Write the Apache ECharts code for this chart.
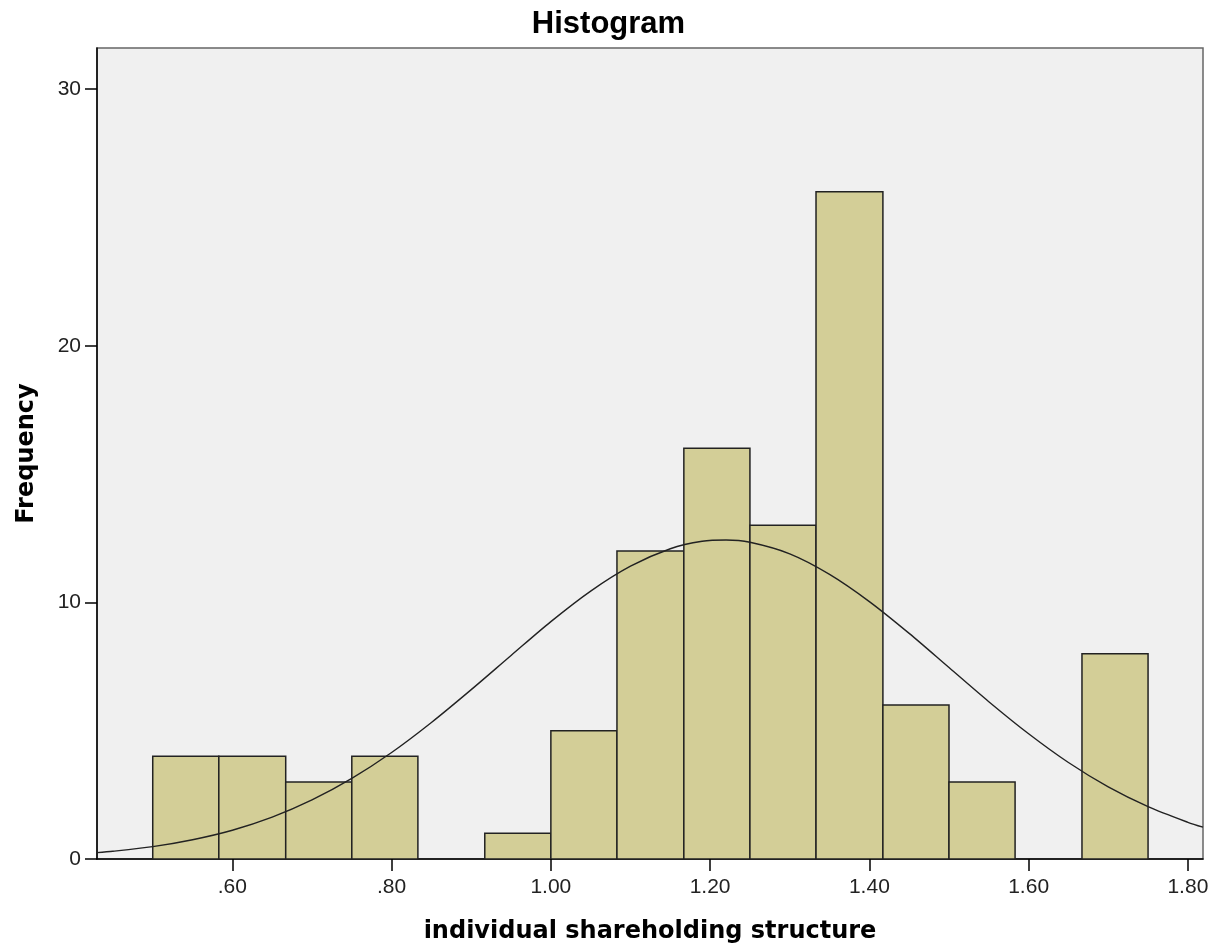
<!DOCTYPE html>
<html>
<head>
<meta charset="utf-8">
<script src="https://cdn.jsdelivr.net/npm/echarts@6/dist/echarts.min.js"></script>
<style>
  html, body { margin: 0; padding: 0; background: #fff; }
  #chart { width: 1217px; height: 950px; }
</style>
</head>
<body>
<div id="chart"></div>
<script>
// bin edges of the histogram (16 edges -> 15 bins)
const binEdges = [0.500, 0.583, 0.667, 0.750, 0.833, 0.917, 1.000, 1.083,
                  1.167, 1.250, 1.333, 1.417, 1.500, 1.583, 1.667, 1.750];
const counts = [4, 4, 3, 4, 0, 1, 5, 12, 16, 13, 26, 6, 3, 0, 8];

// normal curve
const curveX = [0.43, 0.45, 0.50, 0.55, 0.60, 0.65, 0.70, 0.75, 0.80, 0.85, 0.90, 0.95,
                1.00, 1.05, 1.10, 1.15, 1.19, 1.22, 1.25, 1.30, 1.35, 1.40, 1.45, 1.50, 1.55,
                1.60, 1.65, 1.70, 1.75, 1.80, 1.819];
const curveY = [0.25, 0.30, 0.48, 0.75, 1.12, 1.63, 2.30, 3.14, 4.15, 5.32, 6.60, 7.93,
                9.25, 10.44, 11.41, 12.09, 12.38, 12.43, 12.34, 11.89, 11.09, 10.03, 8.79, 7.46, 6.13,
                4.88, 3.76, 2.81, 2.04, 1.43, 1.24];

const xTicks = [0.6, 0.8, 1.0, 1.2, 1.4, 1.6, 1.8];
const yTicks = [0, 10, 20, 30];

const barData = counts.map(function (c, i) {
  return [binEdges[i], binEdges[i + 1], c];
});
const lineData = curveX.map(function (x, i) {
  return [x, curveY[i]];
});

const chart = echarts.init(document.getElementById('chart'));

const option = {
  animation: false,
  title: {
    text: 'Histogram',
    left: 'center',
    top: 4,
    textStyle: {
      fontFamily: 'Liberation Sans',
      fontSize: 31,
      fontWeight: 'bold',
      color: '#000'
    }
  },
  grid: {
    left: 97,
    right: 14,
    top: 48,
    bottom: 91,
    show: true,
    backgroundColor: '#F0F0F0',
    borderColor: '#666',
    borderWidth: 1.5
  },
  xAxis: {
    type: 'value',
    min: 0.43,
    max: 1.819,
    name: 'individual shareholding structure',
    nameLocation: 'middle',
    nameGap: 61,
    nameTextStyle: {
      fontFamily: 'DejaVu Sans',
      fontSize: 24,
      fontWeight: 'bold',
      color: '#000'
    },
    splitLine: { show: false },
    axisLine: { show: true, lineStyle: { color: '#000', width: 1.5 } },
    axisTick: {
      show: true,
      length: 12,
      customValues: xTicks,
      lineStyle: { color: '#000', width: 1.5 }
    },
    axisLabel: {
      customValues: xTicks,
      margin: 18,
      fontFamily: 'Liberation Sans',
      fontSize: 21,
      color: '#222',
      formatter: function (v) {
        return v.toFixed(2).replace(/^0/, '');
      }
    }
  },
  yAxis: {
    type: 'value',
    min: 0,
    max: 31.6,
    name: 'Frequency',
    nameLocation: 'middle',
    nameGap: 58,
    nameTextStyle: {
      fontFamily: 'DejaVu Sans',
      fontSize: 24,
      fontWeight: 'bold',
      color: '#000'
    },
    splitLine: { show: false },
    axisLine: { show: true, lineStyle: { color: '#000', width: 1.5 } },
    axisTick: {
      show: true,
      length: 12,
      customValues: yTicks,
      lineStyle: { color: '#000', width: 1.5 }
    },
    axisLabel: {
      customValues: yTicks,
      margin: 16,
      fontFamily: 'Liberation Sans',
      fontSize: 21,
      color: '#222'
    }
  },
  series: [
    {
      type: 'custom',
      clip: true,
      data: barData,
      encode: { x: [0, 1], y: 2 },
      renderItem: function (params, api) {
        if (api.value(2) <= 0) return null;
        const p0 = api.coord([api.value(0), 0]);
        const p1 = api.coord([api.value(1), api.value(2)]);
        return {
          type: 'rect',
          shape: { x: p0[0], y: p1[1], width: p1[0] - p0[0], height: p0[1] - p1[1] },
          style: { fill: '#D3CE97', stroke: '#222', lineWidth: 1.5 }
        };
      }
    },
    {
      type: 'line',
      data: lineData,
      smooth: 0.3,
      showSymbol: false,
      symbol: 'none',
      z: 5,
      lineStyle: { color: '#222', width: 1.4 }
    }
  ]
};

chart.setOption(option);
</script>
</body>
</html>
